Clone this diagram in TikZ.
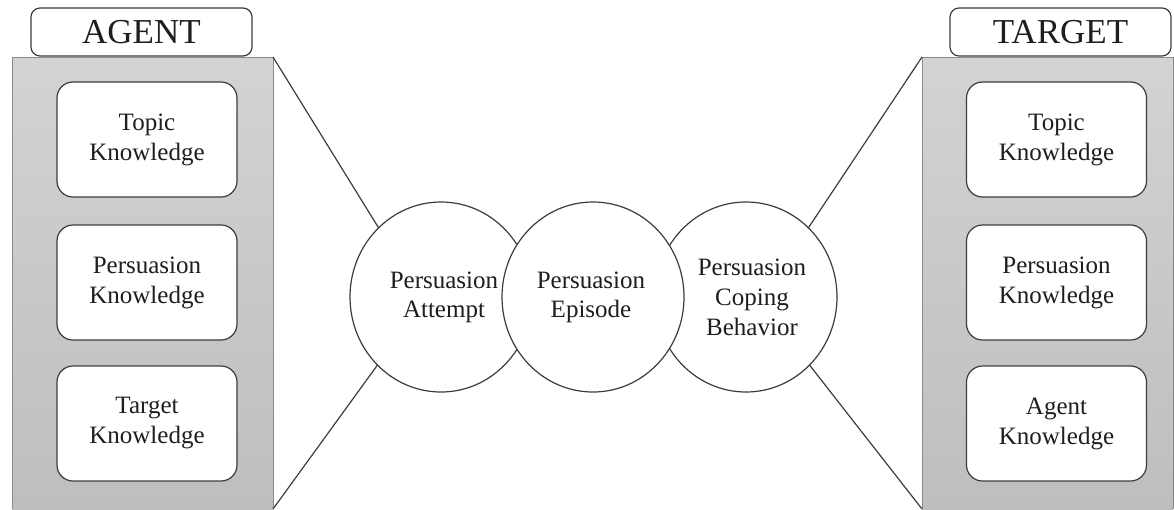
\documentclass[tikz,border=0pt]{standalone}
\usepackage{fontspec}
\setmainfont{Liberation Serif}
\usetikzlibrary{shapes.geometric}
\definecolor{txt}{HTML}{1E1E1E}
\definecolor{edge}{HTML}{3C3C3C}
\definecolor{panelborder}{HTML}{8A8A8A}
\definecolor{paneltop}{HTML}{D3D3D3}
\definecolor{panelbot}{HTML}{BEBEBE}
\tikzset{
  know/.style={draw=edge, line width=1.2pt, fill=white, rounded corners=16pt,
    minimum width=180pt, minimum height=115pt, align=center, text=txt,
    font=\fontsize{25}{30}\selectfont, inner sep=0pt},
  head/.style={draw=edge, line width=1.2pt, fill=white, rounded corners=9pt,
    minimum width=221pt, minimum height=48pt, text=txt,
    font=\fontsize{35}{40}\selectfont, inner sep=0pt},
  bubble/.style={ellipse, draw=edge, line width=1.2pt, fill=white,
    minimum width=182pt, minimum height=190pt, align=center, text=txt,
    font=\fontsize{25}{29}\selectfont, inner sep=0pt},
  link/.style={draw=edge, line width=1.2pt},
  panel/.style={top color=paneltop, bottom color=panelbot, draw=none}
}
\begin{document}
\begin{tikzpicture}[x=1pt,y=-1pt]
\useasboundingbox (0,0) rectangle (1174,509);
% panels
\shade[panel] (12,57) rectangle (273,509);
\draw[panelborder, line width=1pt] (12,509) -- (12,57) -- (273,57) -- (273,509);
\shade[panel] (922,57) rectangle (1173,509);
\draw[panelborder, line width=1pt] (922,509) -- (922,57) -- (1173,57) -- (1173,509);
% coordinates of panel corners
\coordinate (ltop) at (273,57);
\coordinate (lbot) at (273,509);
\coordinate (rtop) at (922,57);
\coordinate (rbot) at (922,509);
% headers
\node[head] (agent) at (141.5,32) {AGENT};
\node[head] (target) at (1060.5,32) {TARGET};
% left knowledge boxes
\node[know] (ltk) at (147,139.5) {Topic\\Knowledge};
\node[know] (lpk) at (147,282.5) {Persuasion\\Knowledge};
\node[know] (lak) at (147,423.5) {Target\\Knowledge};
% right knowledge boxes
\node[know] (rtk) at (1056.5,139.5) {Topic\\Knowledge};
\node[know] (rpk) at (1056.5,282.5) {Persuasion\\Knowledge};
\node[know] (rak) at (1056.5,423.5) {Agent\\Knowledge};
% circles
\node[bubble] (attempt) at (441,297) {};
\node[bubble] (coping) at (746,297) {};
\node[bubble] (episode) at (593,297) {};
\node[text=txt, font=\fontsize{25}{29}\selectfont, align=center] (attempttxt) at (444,297) {Persuasion\\Attempt};
\node[text=txt, font=\fontsize{25}{29}\selectfont, align=center] (episodetxt) at (591,297) {Persuasion\\Episode};
\node[text=txt, font=\fontsize{25}{30}\selectfont, align=center] (copingtxt) at (752,297) {Persuasion\\Coping\\Behavior};
% connectors
\draw[link] (ltop) -- (attempt.132);
\draw[link] (lbot) -- (attempt.227);
\draw[link] (rtop) -- (coping.48);
\draw[link] (rbot) -- (coping.313);
\end{tikzpicture}
\end{document}
